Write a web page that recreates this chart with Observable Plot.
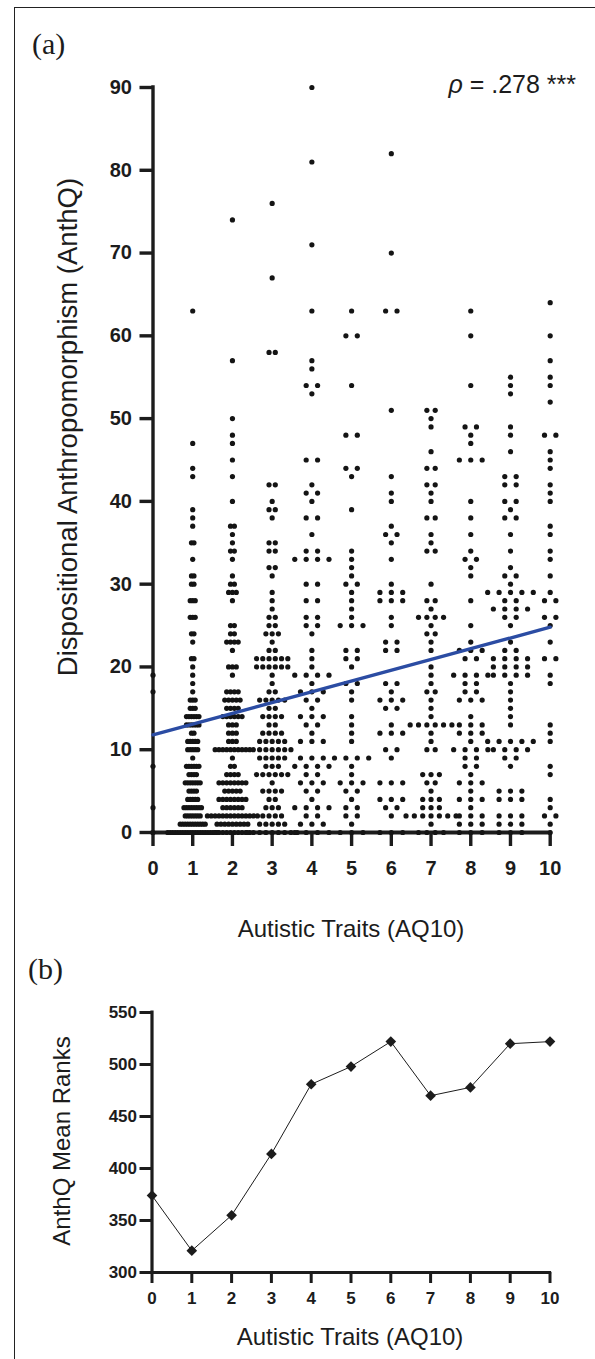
<!DOCTYPE html>
<html><head><meta charset="utf-8">
<script src="https://cdn.jsdelivr.net/npm/d3@7"></script>
<script src="https://cdn.jsdelivr.net/npm/@observablehq/plot@0.6"></script>
<style>
html,body{margin:0;padding:0;background:#fff;}
#fig{position:relative;width:595px;height:1359px;overflow:hidden;background:#fff;}
#frame{position:absolute;left:13.5px;top:6.5px;width:700px;height:1500px;border:1.6px solid #222;box-sizing:border-box;}
.plot{position:absolute;left:0;}
#texts{position:absolute;left:0;top:0;}
</style></head>
<body><div id="fig"><div id="frame"></div></div>
<script>
// ---------------- data ----------------
// Panel (a): AnthQ score rows per AQ10 level, as [AnthQ value, number of participants]
const aq0 = [[19,1],[17,1],[8,1],[3,1],[0,1]];
const aq1 = [[63,1],[47,1],[44,1],[43,1],[39,1],[38,1],[37,1],[35,2],[33,1],[31,2],[30,2],[28,3],[26,3],[24,2],[23,1],[21,2],[20,1],[19,1],[18,1],[17,1],[16,3],[15,3],[14,6],[13,6],[12,2],[11,5],[10,5],[9,1],[8,6],[7,4],[6,7],[5,4],[4,5],[3,8],[2,7],[1,11],[0,21]];
const aq2 = [[74,1],[57,1],[50,1],[48,1],[47,1],[45,1],[43,1],[40,1],[37,2],[36,1],[35,1],[34,2],[33,1],[31,1],[30,2],[29,3],[28,1],[25,2],[24,2],[23,4],[22,1],[20,3],[19,1],[17,4],[16,5],[15,4],[14,6],[13,3],[12,3],[11,3],[10,10],[9,1],[8,2],[7,4],[6,8],[5,5],[4,8],[3,6],[2,14],[1,9],[0,10]];
const aq3 = [[76,1],[67,1],[58,2],[42,2],[40,1],[39,2],[38,1],[35,2],[34,2],[32,2],[31,1],[29,1],[28,1],[27,1],[26,2],[25,2],[24,3],[23,1],[22,2],[21,6],[20,6],[19,1],[18,1],[17,2],[16,5],[15,2],[14,4],[13,2],[12,4],[11,5],[10,7],[9,5],[8,3],[7,6],[6,1],[5,4],[4,2],[3,3],[2,4],[1,5],[0,9]];
const aq4 = [[90,1],[81,1],[71,1],[63,1],[57,1],[56,1],[54,2],[53,1],[45,2],[42,1],[41,2],[40,1],[38,2],[36,1],[34,2],[33,4],[30,2],[28,2],[26,2],[25,2],[24,1],[22,1],[21,1],[20,1],[19,4],[18,1],[17,3],[16,2],[15,1],[14,3],[13,2],[12,1],[11,3],[9,3],[8,4],[7,2],[6,3],[5,2],[4,1],[3,4],[2,2],[1,3],[0,4]];
const aq5 = [[63,1],[60,2],[54,1],[48,2],[44,2],[43,1],[39,1],[34,1],[33,1],[32,1],[31,1],[30,2],[29,1],[28,1],[27,1],[26,1],[25,3],[22,2],[21,2],[20,1],[18,2],[17,1],[16,1],[14,1],[13,1],[12,1],[11,1],[9,4],[8,1],[7,1],[6,3],[5,2],[4,1],[3,2],[2,2],[1,1],[0,3]];
const aq6 = [[82,1],[70,1],[63,2],[51,1],[43,1],[41,1],[40,1],[37,1],[36,2],[35,1],[33,1],[30,1],[29,3],[28,3],[26,1],[25,1],[23,2],[22,2],[18,2],[17,1],[16,3],[15,2],[13,1],[12,3],[10,2],[9,1],[6,3],[4,3],[3,2],[2,1],[0,3]];
const aq7 = [[51,2],[50,1],[49,1],[46,1],[44,2],[42,2],[41,1],[40,1],[38,2],[36,1],[35,1],[34,2],[30,1],[28,2],[27,1],[26,4],[25,1],[24,2],[23,1],[22,1],[20,1],[19,1],[18,1],[17,2],[16,1],[15,1],[14,1],[13,6],[12,1],[11,1],[10,2],[7,3],[6,2],[5,1],[4,3],[3,3],[2,7],[1,1],[0,4]];
const aq8 = [[63,1],[60,1],[54,1],[49,2],[48,1],[47,1],[45,3],[40,1],[38,1],[36,1],[34,1],[33,2],[32,1],[31,1],[28,1],[25,1],[23,1],[22,3],[21,2],[19,4],[18,2],[17,2],[16,3],[14,1],[13,3],[12,3],[11,1],[10,4],[9,2],[8,2],[7,1],[6,3],[5,1],[4,3],[3,1],[2,3],[1,3],[0,3]];
const aq9 = [[55,1],[54,1],[53,1],[49,1],[48,1],[46,1],[43,2],[42,2],[40,2],[39,1],[38,2],[36,1],[34,1],[32,1],[31,2],[30,1],[29,5],[28,2],[27,4],[26,2],[25,1],[23,1],[22,2],[21,4],[20,4],[19,4],[18,1],[17,1],[16,1],[15,1],[14,1],[13,1],[11,5],[10,4],[9,2],[8,1],[5,3],[4,3],[2,3],[1,3],[0,3]];
const aq10 = [[64,1],[60,1],[57,1],[55,1],[54,1],[52,1],[48,2],[46,1],[45,1],[44,1],[42,1],[41,1],[40,1],[37,1],[36,1],[34,1],[33,1],[31,1],[29,1],[28,2],[26,2],[25,1],[23,1],[21,2],[19,1],[18,1],[13,1],[12,1],[11,1],[8,1],[7,1],[4,1],[3,1],[2,2],[1,1],[0,1]];
const columnsA = [aq0, aq1, aq2, aq3, aq4, aq5, aq6, aq7, aq8, aq9, aq10];

// regression line (AnthQ = intercept + slope * AQ10)
const regIntercept = 11.8;
const regSlope = 1.3;
const rhoLabel = ".278 ***";

// axis ticks
const aqTicks = [0,1,2,3,4,5,6,7,8,9,10];
const anthqTicks = [0,10,20,30,40,50,60,70,80,90];
const rankTicks = [300,350,400,450,500,550];

// Panel (b): AnthQ mean ranks per AQ10 level
const aqLevels = [0,1,2,3,4,5,6,7,8,9,10];
const meanRanks = [374,321,355,414,481,498,522,470,478,520,522];

// ---------------- layout of scatter columns (GraphPad-like) ----------------
const maxStep = 0.287;   // horizontal spacing between tied points (AQ units)
const maxSpan = 1.26;    // widest row a column may take (AQ units)
const points = [];
columnsA.forEach((rows, c) => {
  const nmax = d3.max(rows, d => d[1]);
  const step = nmax > 1 ? Math.min(maxStep, maxSpan / (nmax - 1)) : maxStep;
  for (const [v, n] of rows) for (let i = 0; i < n; i++) points.push({aq: c + (i - (n - 1) / 2) * step, anthq: v});
});
const regLine = [0, 10].map(x => ({aq: x, anthq: regIntercept + regSlope * x}));
const rankData = aqLevels.map((a, i) => ({aq: a, rank: meanRanks[i]}));

const W = 595;
const ink = "#1c1c1c";
const font = "'Liberation Sans', Arial, sans-serif";

// ---------------- panel (a) ----------------
const HA = 960;
const plotA = Plot.plot({
  width: W, height: HA,
  marginLeft: 152.5, marginRight: W - 549.7, marginTop: 87, marginBottom: HA - 832,
  x: {domain: [0, 10], axis: null},
  y: {domain: [0, 90], axis: null},
  style: {background: "transparent", fontFamily: font, color: ink, overflow: "visible"},
  marks: [
    Plot.ruleX([0], {y1: 0, y2: 90, stroke: ink, strokeWidth: 3.4, strokeLinecap: "square"}),
    Plot.ruleY([0], {x1: 0, x2: 10, stroke: ink, strokeWidth: 3.8, strokeLinecap: "square"}),
    Plot.axisY(anthqTicks, {tickSize: 13, tickPadding: 8, fontSize: 20, fontWeight: "bold", strokeWidth: 3.4, stroke: ink, fill: ink, label: null}),
    Plot.axisX(aqTicks, {tickSize: 14, tickPadding: 14, fontSize: 20, fontWeight: "bold", strokeWidth: 3.4, stroke: ink, fill: ink, label: null}),
    Plot.dot(points, {x: "aq", y: "anthq", r: 2.6, fill: "#141414", stroke: "none"}),
    Plot.line(regLine, {x: "aq", y: "anthq", stroke: "#2b4ca3", strokeWidth: 3.4})
  ]
});
plotA.classList.add("plot");
plotA.style.top = "0px";
document.getElementById("fig").appendChild(plotA);

// ---------------- panel (b) ----------------
const TB = 1000, HB = 359;
const plotB = Plot.plot({
  width: W, height: HB,
  marginLeft: 151.5, marginRight: W - 549.5, marginTop: 1012 - TB, marginBottom: HB - (1272 - TB),
  x: {domain: [0, 10], axis: null},
  y: {domain: [300, 550], axis: null},
  style: {background: "transparent", fontFamily: font, color: ink, overflow: "visible"},
  marks: [
    Plot.ruleX([0], {y1: 300, y2: 550, stroke: ink, strokeWidth: 3.2, strokeLinecap: "square"}),
    Plot.ruleY([300], {x1: 0, x2: 10, stroke: ink, strokeWidth: 3.2, strokeLinecap: "square"}),
    Plot.axisY(rankTicks, {tickSize: 12, tickPadding: 3, fontSize: 17, fontWeight: "bold", strokeWidth: 3, stroke: ink, fill: ink, label: null}),
    Plot.axisX(aqTicks, {tickSize: 11, tickPadding: 8, fontSize: 17, fontWeight: "bold", strokeWidth: 3, stroke: ink, fill: ink, label: null}),
    Plot.line(rankData, {x: "aq", y: "rank", stroke: ink, strokeWidth: 1}),
    Plot.dot(rankData, {x: "aq", y: "rank", symbol: "diamond2", r: 4.8, fill: ink, stroke: "none"})
  ]
});
plotB.classList.add("plot");
plotB.style.top = TB + "px";
document.getElementById("fig").appendChild(plotB);

// ---------------- texts ----------------
const svg = d3.select("#fig").append("svg").attr("id", "texts").attr("width", W).attr("height", 1359)
  .style("font-family", font).style("fill", ink);
svg.append("text").attr("x", 32).attr("y", 54).style("font-family", "'Liberation Serif', 'Times New Roman', serif").style("font-size", "30px").text("(a)");
svg.append("text").attr("x", 28).attr("y", 979).style("font-family", "'Liberation Serif', 'Times New Roman', serif").style("font-size", "30px").text("(b)");
const rho = svg.append("text").attr("x", 576).attr("y", 93).attr("text-anchor", "end").style("font-size", "25px");
rho.append("tspan").style("font-style", "italic").text("ρ");
rho.append("tspan").text(" = " + rhoLabel);
svg.append("text").attr("x", 351).attr("y", 937).attr("text-anchor", "middle").style("font-size", "24px").text("Autistic Traits (AQ10)");
svg.append("text").attr("transform", "translate(77,427) rotate(-90)").attr("text-anchor", "middle").style("font-size", "27.5px").text("Dispositional Anthropomorphism (AnthQ)");
svg.append("text").attr("x", 350).attr("y", 1345).attr("text-anchor", "middle").style("font-size", "24px").text("Autistic Traits (AQ10)");
svg.append("text").attr("transform", "translate(70,1141) rotate(-90)").attr("text-anchor", "middle").style("font-size", "24px").text("AnthQ Mean Ranks");
</script>
</body></html>
